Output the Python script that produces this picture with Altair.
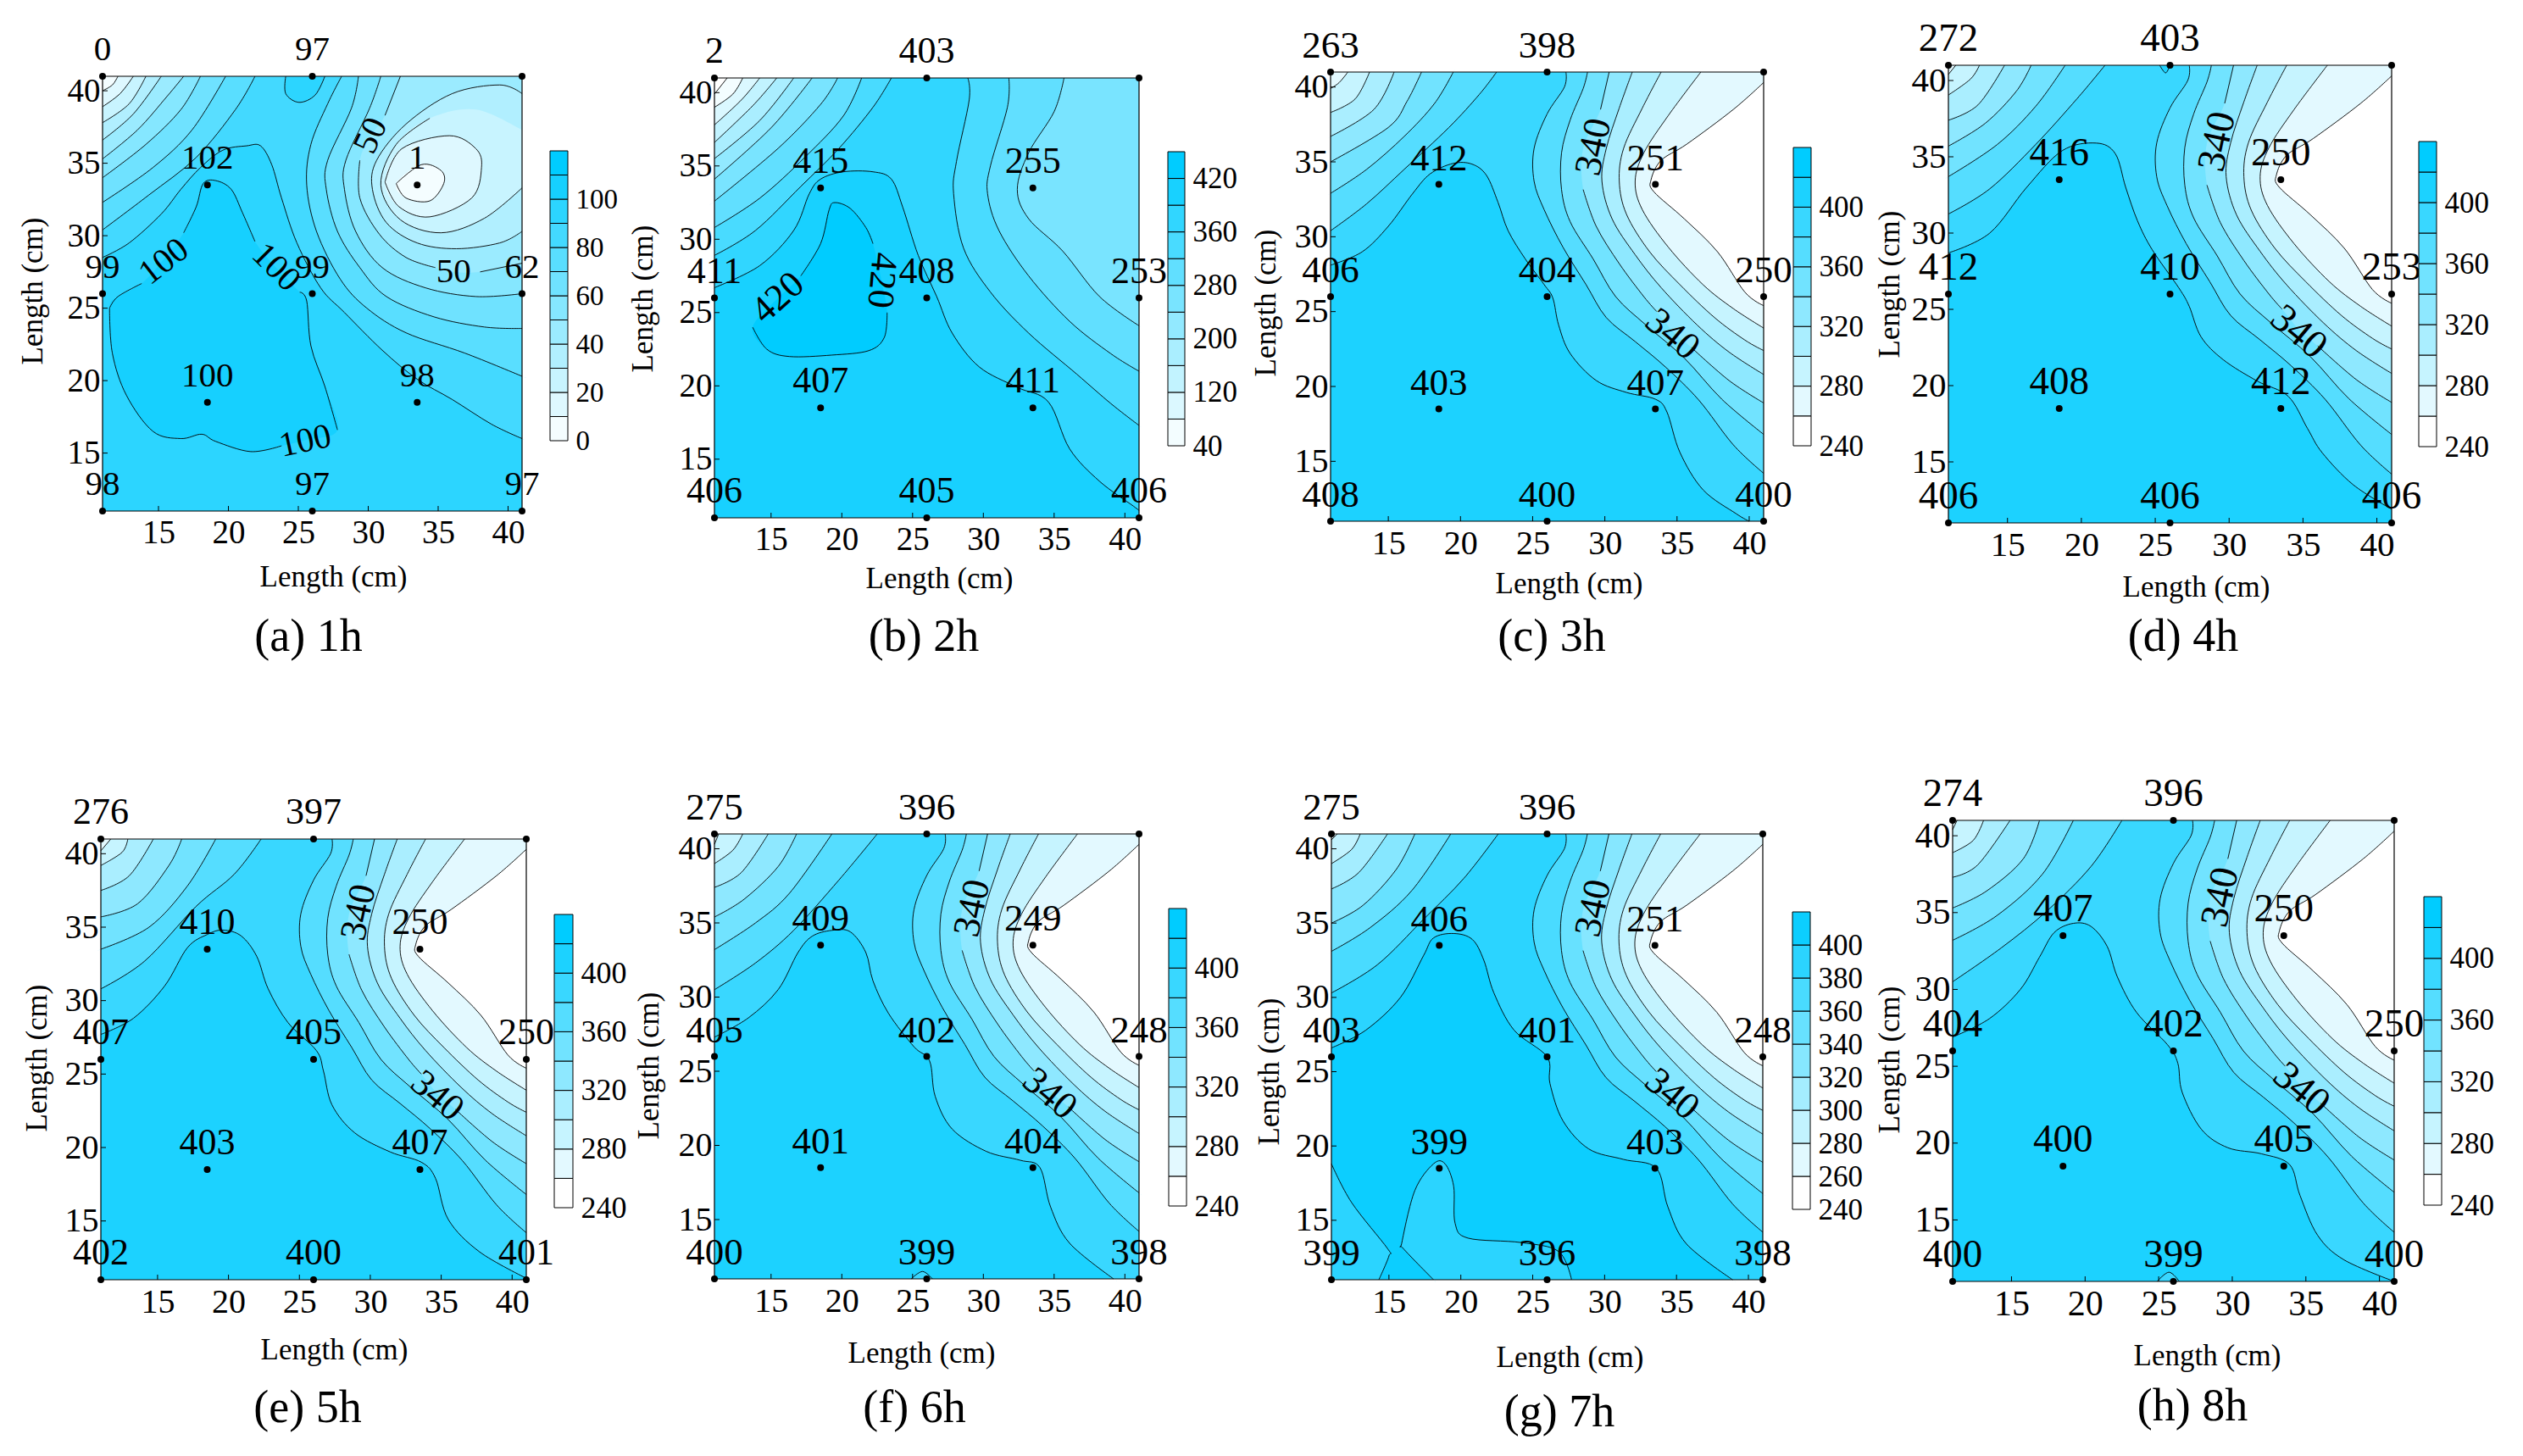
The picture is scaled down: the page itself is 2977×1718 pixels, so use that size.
import altair as alt
import pandas as pd

FONT = "Liberation Serif"
W, H = 740, 850
TICKS = [15, 20, 25, 30, 35, 40]
SENSOR_X = [11, 26, 41, 18.5, 33.5, 11, 26, 41, 18.5, 33.5, 11, 26, 41]
SENSOR_Y = [41, 41, 41, 33.5, 33.5, 26, 26, 26, 18.5, 18.5, 11, 11, 11]

VALUES = {
    "a": ["0", "97", "", "102", "1", "99", "99", "62", "100", "98", "98", "97", "97"],
    "b": ["2", "403", "", "415", "255", "411", "408", "253", "407", "411", "406", "405", "406"],
    "c": ["263", "398", "", "412", "251", "406", "404", "250", "403", "407", "408", "400", "400"],
    "d": ["272", "403", "", "416", "250", "412", "410", "253", "408", "412", "406", "406", "406"],
    "e": ["276", "397", "", "410", "250", "407", "405", "250", "403", "407", "402", "400", "401"],
    "f": ["275", "396", "", "409", "249", "405", "402", "248", "401", "404", "400", "399", "398"],
    "g": ["275", "396", "", "406", "251", "403", "401", "248", "399", "403", "399", "396", "398"],
    "h": ["274", "396", "", "407", "250", "404", "402", "250", "400", "405", "400", "399", "400"],
}

TL, TR, BL, BR = (11, 41), (41, 41), (11, 11), (41, 11)
G = None  # two G in a row open and close a gap in a drawn contour line

# ---- panel (a): contour, band index inside it, corners that close it
A_CONT = [
    ([(11, 28.5), (12.9, 29.5), (15.2, 31.5), (16.6, 33.2), (18, 34.7), (19.6, 35.9), (21.3, 36.2), (22.3, 36.2), (23.1, 34.9), (23.8, 32.6), (24.9, 29.5), (26.6, 26.4), (28.3, 24.7), (31, 22.1), (33.5, 20.1), (36, 18.7), (38.8, 17), (41, 16)], 9, [BR, BL]),
    ([(11.5, 25), (12.1, 25.8), (13.8, 26.7), G, (15.4, 28.4), G, (16.8, 30.2), (17.7, 32), (18.2, 33.6), (19.1, 33.8), (20.2, 33.2), (21, 31.6), (21.9, 29.6), G, (23.4, 27.8), G, (25.1, 26.1), (25.6, 25.5), (25.9, 22.4), (26.9, 19.6), (27.8, 16.6), G, (25.5, 15.9), G, (23.8, 15.5), (21.6, 15.1), (19.1, 15.8), (18.1, 16.3), (16.6, 16), (14.6, 16.5), (12.7, 19), (11.7, 21.9), (11.5, 25)], 10, []),
    ([(24.1, 41), (24.1, 39.8), (25.05, 39.2), (26.2, 39.7), (26.9, 41)], 9, []),
    ([(11, 30.4), (14.3, 32.8), (17.7, 35.4), (20.5, 38.7), (21.9, 41)], 7, [TL]),
    ([(11, 32.3), (14.6, 34.7), (17.4, 37.3), (19.8, 41)], 6, [TL]),
    ([(11, 34), (14.1, 36.3), (16.6, 38.7), (18, 41)], 5, [TL]),
    ([(11, 35.3), (13.5, 37.3), (15.6, 39.6), (16.8, 41)], 4, [TL]),
    ([(11, 36.6), (13.2, 38.4), (15.2, 41)], 3, [TL]),
    ([(11, 37.8), (12.9, 39.1), (14.1, 41)], 2, [TL]),
    ([(11, 38.9), (12.25, 39.8), (13.2, 41)], 1, [TL]),
    ([(11, 40), (11.7, 40.4), (12.1, 41)], 0, [TL]),
    ([(28.1, 41), (27.1, 39.1), (25.9, 36.3), (25.6, 33.5), (26.3, 30.3), (28, 27), (29.9, 25), (32.7, 23.3), (36.9, 21.9), (41, 20.3)], 7, [TR]),
    ([(29.3, 41), (28.8, 38.8), (27.1, 35.2), (27, 33.2), (27.8, 30.3), (29.4, 27.8), (31.3, 25.8), (34.7, 24.4), (38.3, 23.7), (41, 23.6)], 6, [TR]),
    ([(30.9, 41), (30.1, 38.8), (28.4, 35.2), (28.3, 33.2), (29.1, 30.3), (31, 27.8), (34.1, 26.4), (37.7, 25.8), (41, 26)], 5, [TR]),
    ([(32.3, 41), (31.2, 38.3), G, (30.2, 36.9), G, (29.4, 35.2), (29.4, 32.6), (30.8, 30.1), (32.7, 28.5), (34.8, 27.8), G, (36.1, 27.5), G, (38, 27.5), (41, 28.1)], 4, [TR]),
    ([(41, 39.8), (39.4, 40.4), (36, 39.8), (32.7, 37.7), (30.6, 35.2), (30.3, 33.2), (31.3, 30.9), (33.5, 29.5), (36.3, 29.1), (39.4, 29.5), (41, 30.3)], 3, []),
    ([(41, 33.3), (38.3, 31.2), (35.2, 30.2), (32.3, 31.1), (30.9, 33.5), (32, 36.3), (34.4, 38.1), G, (37.7, 38.7), G, (41, 37.3)], 2, []),
    ([(31.2, 33.7), (32.4, 36), (35.8, 36.9), (37.7, 36), (38.1, 34.7), (37.4, 32.6), (34.4, 31.3), (32.2, 32), (31.2, 33.7)], 1, []),
    ([(32, 33.6), (33.8, 34.9), (35.2, 34.5), (35.4, 33.6), (34.4, 32.4), (32.7, 32.6), (32, 33.6)], 0, []),
]

# ---- panel (b)
B_CONT = [
    ([(11, 26.7), (14.2, 28.2), (16.6, 30.6), (17.7, 33.1), (18.5, 34.1), (20.1, 34.6), (22.2, 34.6), (23.5, 34.1), (24.3, 32.2), (25.4, 28.9), (26.7, 26.1), (27.8, 23.6), (29.7, 21.3), (32.4, 19.9), (34.6, 18.9), (36.1, 15.7), (38.2, 13.5), (40.6, 11.8), (41, 11.5)], 9, [BR, BL]),
    ([(13.7, 24), G, (15.5, 26), G, (17.1, 27.5), (18.5, 29.7), (19.1, 32), (19.5, 32.5), (20.6, 32.1), (21.7, 30.8), (22.2, 29.7), G, (22.8, 27.2), G, (23.2, 25), (23, 23.3), (21.9, 22.4), (19.3, 22.1), (16.3, 22), (14.7, 22.5), (13.7, 24)], 10, []),
    ([(11, 28.9), (13.9, 30.6), (17.1, 33.6), (19.8, 36.2), (22.2, 39), (23.5, 41)], 7, [TL]),
    ([(11, 30.8), (14.2, 32.8), (17.4, 35.6), (20.1, 38.4), (21.4, 41)], 6, [TL]),
    ([(11, 32.6), (15.5, 36.2), (18.5, 39.2), (19.7, 41)], 5, [TL]),
    ([(11, 34.1), (15, 37.6), (17.9, 41)], 4, [TL]),
    ([(11, 35.5), (14.2, 38.1), (16.6, 41)], 3, [TL]),
    ([(11, 36.6), (13.7, 39.1), (15.4, 41)], 2, [TL]),
    ([(11, 37.8), (12.9, 39.5), (14.2, 41)], 1, [TL]),
    ([(11, 39), (12.3, 39.9), (13, 41)], 0, [TL]),
    ([(11, 39.9), (11.9, 41)], -1, [TL]),
    ([(28.9, 41), (29, 39.5), (28.1, 35.3), (27.9, 33.1), (28.6, 29.4), (30.5, 26.4), (33.2, 23.6), (36.6, 20.8), (39, 18.8), (41, 17.3)], 7, [TR]),
    ([(31.8, 41), (31.7, 39), (30.5, 35), (30.3, 33.1), (31.1, 30.6), (33.2, 27.5), (36.1, 24.4), (39, 22.2), (41, 21)], 6, [TR]),
    ([(35.7, 41), (35, 38.7), (33.2, 35.9), (32.4, 33.4), (33.2, 31.4), (35.6, 29.2), (38.2, 26.1), (41, 24.1)], 5, [TR]),
]

# ---- panels (c)-(h) share the right-hand family of contours
RIGHT_LATE = [
    ([(27.3, 41), (27.2, 40), (26, 38.2), (25.1, 35.9), (25.1, 33.7), (25.8, 31.8), (27.1, 29.3), (28.7, 26.8), (30.1, 24.6), (32.1, 23), (34.2, 21.3), (36.5, 19.1), (38.9, 16.1), (41, 14.2)], 6, [TR]),
    ([(28.8, 41), (28.5, 39.9), (27.6, 37.8), (27, 35.6), (27, 33.15), (27.6, 31), (29.2, 28.5), (30.75, 26), (32.85, 24.1), (35.5, 21.9), (38.1, 19.15), (41, 16.8)], 5, [TR]),
    ([(30.3, 41), (29.7, 38.5), G, (28.5, 35.9), G, (28.5, 33.15), (29.4, 30.7), (31, 28.2), (32.7, 26), (33.6, 25), G, (34.7, 23.7), G, (36, 22.6), (38.6, 20.4), (41, 18.9)], 4, [TR]),
    ([(31.9, 41), (31, 38.6), (30.1, 35.9), (29.8, 33.7), (30.5, 31.2), (32.1, 28.8), (33.9, 26.6), (36.4, 24.1), (38.6, 22.3), (41, 20.8)], 3, [TR]),
    ([(33.9, 41), (32.6, 38.6), (31.3, 35.9), (31, 33.7), (31.5, 31.5), (33.1, 29), (35.2, 26.8), (37.6, 24.6), (39.7, 23.1), (41, 22.4)], 2, [TR]),
    ([(36.65, 41), (34.4, 38.1), (32.7, 35.6), (32.1, 33.7), (32.6, 31.8), (34.4, 29.3), (36.8, 26.8), (38.9, 25.2), (41, 23.9)], 1, [TR]),
    ([(41, 40.3), (38.9, 38.5), (35.7, 36.2), (33.9, 35.1), (33.2, 33.8), (33.4, 33), (35.5, 31.2), (37.8, 29), (39.7, 26.3), (41, 25.4)], 0, []),
]

C_CENTRE = [(11, 28.1), (13.2, 29), (15, 30.7), (16.7, 32.9), (17.9, 34.2), (19.5, 34.9), (20.8, 34.85), (21.8, 34.1), (22.6, 32.3), (23.3, 30.4), (24.5, 28.5), (25.8, 26.8), (26.4, 25.9), (26.8, 24.1), (27.6, 22.2), (29.4, 20.4), (31.5, 19.6), (33.5, 19.15), (34.3, 18.3), (35.2, 15.6), (36.8, 13.1), (39.1, 11.5), (40, 11)]
D_CENTRE = [(11, 28.7), (13.8, 30), (16.3, 33), (18.7, 35.4), (21, 35.9), (22.3, 35.2), (23, 33), (23.8, 30.8), (24.8, 28.9), (26.6, 26.4), (27.3, 25.2), (28.1, 23.2), (29.6, 21.7), (31.9, 20.3), (34, 19.3), (35.3, 17.2), (36.3, 15.6), (38.4, 13.5), (41, 11.9)]
E_CENTRE = [(11, 27.7), (13.3, 28.8), (15.5, 31), (17.1, 33.6), (18.5, 34.5), (19.6, 34.8), (20.9, 34.4), (22, 33), (22.8, 30.8), (24.2, 28.5), (26.2, 26.6), (26.7, 25.2), (27.3, 22.9), (28.9, 21), (31.4, 19.7), (33.6, 19), (34.6, 17.9), (35.5, 15.1), (37.7, 12.9), (41, 11.1)]
F_CENTRE = [(11, 27.3), (13.4, 28.6), (15.5, 30.5), (16.9, 33), (17.9, 34.1), (19.3, 34.5), (20.6, 34.4), (21.7, 33), (22.2, 31.1), (23.3, 28.9), (25.1, 26.65), (26.2, 25.7), (26.6, 23.3), (27.8, 21.1), (30.2, 19.6), (32.6, 19), (34, 18.5), (34.75, 15.85), (36.1, 13.4), (39.2, 11)]
G_CENTRE = [(11, 26.6), (13.4, 27.8), (15.8, 30), (17.4, 32.8), (18.1, 34), (19.5, 34.3), (20.8, 33.9), (21.6, 32.5), (22.3, 30.3), (23.7, 27.8), (26, 26), (26.2, 24.2), (27.1, 21.7), (28.9, 19.8), (31.3, 19.1), (33.6, 18.5), (34.4, 15.9), (35.7, 13.4), (38.9, 11)]
H_CENTRE = [(11, 26.9), (13.5, 28.1), (15.6, 30), (16.9, 32.1), (17.9, 33.7), (19.2, 34.3), (20.4, 34.1), (21.5, 32.8), (22.2, 30.8), (23.5, 28.5), (25.6, 26.4), (26.3, 25.2), (26.6, 23.3), (27.9, 20.9), (29.7, 19.7), (32, 19.3), (33.9, 18.6), (34.6, 16.6), (35.8, 14), (37.6, 12.4), (41, 11)]

C_ARCS = [
    [(11, 30.4), (13.5, 32.2), (16.1, 34.5), (19.2, 37.3), (21.3, 39.5), (22.5, 41)],
    [(11, 32.9), (13.5, 34.5), (16.1, 36.7), (18.2, 38.9), (19.5, 41)],
    [(11, 35), (15, 37.3), (16.3, 39.05), (17.3, 41)],
    [(11, 36.7), (14, 38.5), (15.4, 41)],
    [(11, 38.3), (12.7, 39.2), (13.7, 41)],
    [(11, 39.9), (11.6, 40.3), (12.2, 41)],
]
D_ARCS = [
    [(11, 31.25), (13.8, 32.9), (16.9, 35.8), (19.7, 38.8), (21.6, 41)],
    [(11, 33.7), (14.3, 35.8), (16.9, 38.3), (18.9, 41)],
    [(11, 35.7), (13.5, 37.2), (15.6, 39.3), (16.6, 41)],
    [(11, 37.4), (13, 38.4), (14.8, 41)],
    [(11, 39.05), (12.5, 40.1), (13.1, 41)],
    [(11, 40.4), (11.5, 41)],
]
E_ARCS = [
    [(11, 30.8), (14.1, 32.7), (17.7, 36.4), (20.4, 38.6), (22.3, 41)],
    [(11, 33.5), (14.4, 35), (17.1, 37.8), (19.1, 41)],
    [(11, 35.7), (13.6, 36.6), (15.8, 39.2), (16.7, 41)],
    [(11, 37.5), (13, 38.5), (14.7, 41)],
    [(11, 39.2), (12.5, 40.1), (12.9, 41)],
    [(11, 40.2), (11.7, 41)],
]
F_ARCS = [
    [(11, 30.5), (13.9, 32.3), (16.6, 34.5), (19.8, 37.9), (22.5, 41)],
    [(11, 33.2), (13.9, 35), (16.3, 37), (19.3, 41)],
    [(11, 35.4), (13.1, 36.6), (15.5, 38.8), (16.8, 41)],
    [(11, 37.4), (12.9, 38.4), (14.8, 41)],
    [(11, 39), (12.3, 39.9), (13, 41)],
    [(11, 40.3), (11.3, 41)],
]
G_ARCS = [
    [(11, 30.3), (14.2, 32.2), (17.4, 35.25), (20.2, 38), (22.6, 41)],
    [(11, 33.1), (13.7, 34.7), (16.6, 37.2), (19.3, 41)],
    [(11, 35), (13.2, 36.2), (15.5, 38.6), (16.8, 41)],
    [(11, 37.3), (12.9, 38.4), (14.9, 41)],
    [(11, 39), (12.4, 39.95), (13, 41)],
    [(11, 40.6), (11.4, 41)],
]
H_ARCS = [
    [(11, 30.5), (14.3, 32.7), (17.4, 35.1), (20.4, 38), (22.5, 41)],
    [(11, 33.2), (14, 34.8), (17.1, 37.5), (19.2, 41)],
    [(11, 35.3), (13.3, 36.4), (15.8, 38.5), (16.9, 41)],
    [(11, 37.3), (12.7, 38.1), (14.9, 41)],
    [(11, 38.9), (12.4, 39.7), (13.1, 41)],
    [(11, 40.4), (11.3, 41)],
]

G_LOW1 = [(11, 18.8), (12.4, 16.2), (14.9, 13.1), (15, 12.6), (14.3, 11)]
G_LOW2 = [(18.1, 11), (16, 13.1), (15.9, 13.5), (16.8, 17), (18.1, 18.8), (18.9, 18.8), (19.5, 17.3), (19.6, 14.8), (20.5, 13.8), (24.2, 13.5), (26.8, 12.9), (27.7, 11)]
D_BUMP = [(25.3, 41), (25.7, 40.5), (26, 41)]
F_BUMP = [(24.9, 11), (25.7, 11.5), (26.4, 11)]
H_BUMP = [(24.9, 11), (25.7, 11.6), (26.4, 11)]


def late(centre, arcs, extra=()):
    out = [(centre, 8, [BR, BL])]
    out += list(extra)
    for k, arc in enumerate(arcs):
        out.append((arc, 6 - k, [TL]))
    return out + RIGHT_LATE


def mix(t):
    t = max(0, min(1, t))
    return "#%02x%02x%02x" % (round(255 * (1 - t)), round(255 - 51 * t), 255)


LATE_LABELS = [(29.2, 36, "340", 282), (34.7, 23.5, "340", 40)]
PANELS = [
    dict(k="a", cap="(a) 1h", box=(121, 616, 90, 603), leg=(649, 670, 178, 520), base=8, pal=lambda i: mix((i + 0.5) / 11.5),
         cont=A_CONT, lo=0, step=10, n=12, ticks=[0, 20, 40, 60, 80, 100],
         xt=(393, 680), yt=(38, 343), capxy=(364, 752), vf=41, tf=39, lf=33,
         labels=[(15.4, 28.2, "100", 322), (23.4, 27.8, "100", 45), (25.5, 15.8, "100", 348), (30.2, 36.9, "50", 295), (36.1, 27.5, "50", 0)]),
    dict(k="b", cap="(b) 2h", box=(843, 1344, 92, 611), leg=(1378, 1398, 179, 526), base=8, pal=lambda i: mix((i + 0.5) / 10.5),
         cont=B_CONT, lo=40, step=40, n=11, ticks=[40, 120, 200, 280, 360, 440],
         xt=(1108, 682), yt=(758, 352), capxy=(1090, 752), vf=44, tf=39, lf=35,
         labels=[(15.5, 26, "420", 318), (22.8, 27.2, "420", 95)]),
    dict(k="c", cap="(c) 3h", box=(1570, 2081, 85, 615), leg=(2116, 2137, 174, 526), base=7, pal=lambda i: mix(i / 9),
         cont=late(C_CENTRE, C_ARCS), lo=240, step=20, n=10, ticks=[240, 280, 320, 360, 400],
         xt=(1851, 688), yt=(1493, 357), capxy=(1831, 752), vf=45, tf=40, lf=35, labels=LATE_LABELS),
    dict(k="d", cap="(d) 4h", box=(2299, 2822, 77, 617), leg=(2854, 2875, 167, 527), base=7, pal=lambda i: mix(i / 9),
         cont=late(D_CENTRE, D_ARCS, [(D_BUMP, 8, [])]), lo=240, step=20, n=10, ticks=[240, 280, 320, 360, 400],
         xt=(2591, 692), yt=(2229, 335), capxy=(2576, 752), vf=47, tf=41, lf=35, labels=LATE_LABELS),
    dict(k="e", cap="(e) 5h", box=(119, 621, 990, 1510), leg=(654, 676, 1079, 1425), base=7, pal=lambda i: mix(i / 9),
         cont=late(E_CENTRE, E_ARCS), lo=240, step=20, n=10, ticks=[240, 280, 320, 360, 400],
         xt=(394, 1592), yt=(43, 1248), capxy=(363, 1662), vf=44, tf=40, lf=36, labels=LATE_LABELS),
    dict(k="f", cap="(f) 6h", box=(843, 1344, 984, 1509), leg=(1379, 1400, 1072, 1423), base=7, pal=lambda i: mix(i / 9),
         cont=late(F_CENTRE, F_ARCS, [(F_BUMP, 7, [])]), lo=240, step=20, n=10, ticks=[240, 280, 320, 360, 400],
         xt=(1087, 1596), yt=(765, 1257), capxy=(1079, 1662), vf=45, tf=40, lf=35, labels=LATE_LABELS),
    dict(k="g", cap="(g) 7h", box=(1571, 2080, 984, 1510), leg=(2115, 2136, 1076, 1427), base=7, pal=lambda i: mix(i / 8.4),
         cont=late(G_CENTRE, G_ARCS, [(G_LOW1, 7, [BL]), (G_LOW2, 7, [])]), lo=240, step=20, n=9, ticks=[240, 260, 280, 300, 320, 340, 360, 380, 400],
         xt=(1852, 1601), yt=(1497, 1264), capxy=(1840, 1667), vf=45, tf=40, lf=35, labels=LATE_LABELS),
    dict(k="h", cap="(h) 8h", box=(2304, 2825, 968, 1512), leg=(2860, 2881, 1058, 1422), base=7, pal=lambda i: mix(i / 9),
         cont=late(H_CENTRE, H_ARCS, [(H_BUMP, 7, [])]), lo=240, step=20, n=10, ticks=[240, 280, 320, 360, 400],
         xt=(2604, 1599), yt=(2229, 1250), capxy=(2587, 1660), vf=47, tf=42, lf=35, labels=LATE_LABELS),
]


def build(p, idx):
    col, row = idx % 4, idx // 4
    ox, oy = 8 + W * col, 8 + H * row
    L, R, T, B = p["box"]
    L, R, T, B = L - ox, R - ox, T - oy, B - oy
    xs = alt.Scale(domain=[11, 41], range=[L, R], nice=False, zero=False)
    ys = alt.Scale(domain=[11, 41], range=[B, T], nice=False, zero=False)

    font = dict(labelFont=FONT, titleFont=FONT)
    x_axis = alt.Axis(values=TICKS, orient="bottom", offset=B - H, domain=False, grid=False, ticks=False,
                      labelFontSize=p["tf"], labelColor="black", labelPadding=6, labelOverlap=False, labelFlush=False,
                      format="d", title="Length (cm)", titleFontSize=35, titleFontWeight="normal", titleColor="black",
                      titleX=p["xt"][0] - ox, titleY=p["xt"][1] - oy - B, titleAlign="center", titleBaseline="middle", **font)
    y_axis = alt.Axis(values=TICKS, orient="left", offset=-L, domain=False, grid=False, ticks=False,
                      labelFontSize=p["tf"], labelColor="black", labelPadding=3, labelOverlap=False, labelFlush=False,
                      format="d", title="Length (cm)", titleFontSize=35, titleFontWeight="normal", titleColor="black",
                      titleAngle=270, titleX=p["yt"][0] - ox - L, titleY=p["yt"][1] - oy, titleAlign="center", titleBaseline="middle", **font)
    xe = alt.X("x:Q", scale=xs, axis=x_axis, title="Length (cm)")
    ye = alt.Y("y:Q", scale=ys, axis=y_axis, title="Length (cm)")

    polys, lines = [], []
    corners = [BL, BR, TR, TL]
    rows = [(corners, p["base"], [], False)] + [(c, b, cl, True) for c, b, cl in p["cont"]]
    for pid, (pts, band, close, stroke) in enumerate(rows):
        clean = [q for q in pts if q is not None]
        if not stroke:
            seq = [q for q in clean for _ in range(3)]
        elif clean[0] == clean[-1]:
            seq = clean[:-1]
        else:
            seq = [clean[0]] * 3 + clean[1:-1] + [clean[-1]] * 3
            for q in close:
                seq += [q] * 3
        color = p["pal"](band) if band >= 0 else "#ffffff"
        for i, q in enumerate(seq):
            polys.append(dict(poly=pid, i=i, x=q[0], y=q[1], color=color))
        if stroke:
            seg, vis, cur = [], True, []
            for q in pts:
                if q is None:
                    if cur:
                        seg.append(cur)
                    cur, vis = [], not vis
                elif vis:
                    cur.append(q)
            if cur:
                seg.append(cur)
            for s, part in enumerate(seg):
                for i, q in enumerate(part):
                    lines.append(dict(line=f"{pid}-{s}", i=i, x=q[0], y=q[1]))

    fills = alt.Chart(pd.DataFrame(polys)).mark_line(interpolate="cardinal-closed", strokeWidth=0).encode(
        x=xe, y=ye, fill=alt.Fill("color:N", scale=None), detail="poly:N", order="i:Q")
    strokes = alt.Chart(pd.DataFrame(lines)).mark_line(interpolate="cardinal", color="black", strokeWidth=0.9).encode(
        x=xe, y=ye, detail="line:N", order="i:Q")
    frame = alt.Chart(pd.DataFrame([dict(x=11, x2=41, y=11, y2=41)])).mark_rect(fillOpacity=0, stroke="black", strokeWidth=1.2).encode(
        x=xe, x2="x2:Q", y=ye, y2="y2:Q")
    xticks = alt.Chart(pd.DataFrame(dict(x=TICKS))).mark_rule(color="black", strokeWidth=1).encode(
        x=xe, y=alt.value(B), y2=alt.value(B - 6))
    yticks = alt.Chart(pd.DataFrame(dict(y=TICKS))).mark_rule(color="black", strokeWidth=1).encode(
        y=ye, x=alt.value(L), x2=alt.value(L + 6))
    sens = pd.DataFrame(dict(x=SENSOR_X, y=SENSOR_Y, v=VALUES[p["k"]]))
    dots = alt.Chart(sens).mark_circle(size=64, color="black", opacity=1).encode(x=xe, y=ye)
    vals = alt.Chart(sens).mark_text(font=FONT, fontSize=p["vf"], color="black", dy=-31, baseline="middle").encode(
        x=xe, y=ye, text="v:N")
    cl = pd.DataFrame(p["labels"], columns=["x", "y", "t", "a"])
    clab = alt.Chart(cl).mark_text(font=FONT, fontSize=p["vf"], color="black", baseline="middle").encode(
        x=xe, y=ye, text="t:N", angle=alt.Angle("a:Q", scale=None))
    cap = alt.Chart(pd.DataFrame(dict(t=[p["cap"]]))).mark_text(font=FONT, fontSize=54, color="black", baseline="middle").encode(
        x=alt.value(p["capxy"][0] - ox), y=alt.value(p["capxy"][1] - oy), text="t:N")

    main = alt.layer(fills, strokes, frame, xticks, yticks, dots, vals, clab, cap)

    ll, lr, lt, lb = p["leg"]
    ll, lr, lt, lb = ll - ox, lr - ox, lt - oy, lb - oy
    lo, step, n = p["lo"], p["step"], p["n"]
    bands = pd.DataFrame([dict(a=lo + i * step, b=lo + (i + 1) * step, color=p["pal"](i)) for i in range(n)])
    expr = "datum.value == 440 ? '420' : datum.label" if p["k"] == "b" else "datum.label"
    leg_axis = alt.Axis(values=p["ticks"], orient="right", offset=lr - W, domain=False, grid=False, ticks=False,
                        labelFontSize=p["lf"], labelFont=FONT, labelColor="black", labelPadding=9, labelOverlap=False,
                        labelFlush=False, labelExpr=expr, title=None)
    legend = alt.Chart(bands).mark_rect(stroke="black", strokeWidth=1).encode(
        x=alt.value(ll), x2=alt.value(lr),
        y=alt.Y("a:Q", scale=alt.Scale(domain=[lo, lo + n * step], range=[lb, lt], nice=False, zero=False), axis=leg_axis),
        y2="b:Q", fill=alt.Fill("color:N", scale=None))

    return alt.layer(main, legend).resolve_scale(y="independent").properties(width=W, height=H)


charts = [build(p, i) for i, p in enumerate(PANELS)]
chart = alt.concat(*charts, columns=4, spacing=0, bounds="flush").properties(padding=0).configure_view(strokeWidth=0)
chart.save("out.html", embed_options={"renderer": "svg", "actions": False})
